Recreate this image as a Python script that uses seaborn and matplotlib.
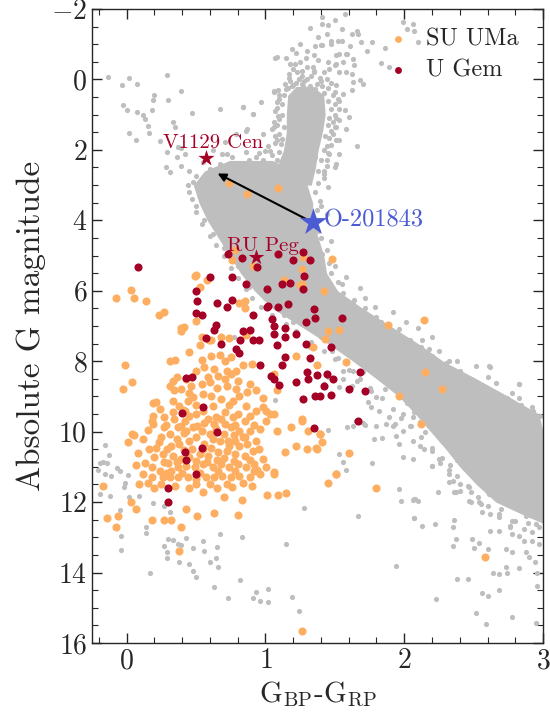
import numpy as np
import pandas as pd
import seaborn as sns
import matplotlib.pyplot as plt

# ---- data (colour index, absolute G mag) ----
# dense part of the Gaia field main sequence: blue / red edge per magnitude
ms_mag = [2.3, 2.6, 3.0, 3.5, 4.0, 4.5, 5.0, 5.5, 6.0, 6.5, 7.0, 7.5, 8.0,
          8.5, 9.0, 9.5, 10.0, 10.5, 11.0, 11.5, 12.0, 12.4, 12.6]
ms_blue = [0.74, 0.56, 0.48, 0.52, 0.58, 0.66, 0.74, 0.82, 0.92, 1.05, 1.25,
           1.45, 1.63, 1.8, 1.96, 2.08, 2.19, 2.3, 2.4, 2.52, 2.66, 2.88, 3.0]
ms_red = [1.05, 1.2, 1.3, 1.34, 1.34, 1.38, 1.42, 1.44, 1.52, 1.7, 1.9,
          2.1, 2.28, 2.52, 2.75, 2.97, 3.0, 3.0, 3.0, 3.0, 3.0, 3.0, 3.0]

# dense part of the giant branch / red clump
gb_mag = [0.2, 0.45, 1.0, 1.5, 2.0, 2.5, 3.0]
gb_blue = [1.22, 1.16, 1.15, 1.15, 1.13, 1.08, 0.98]
gb_red = [1.34, 1.42, 1.43, 1.41, 1.38, 1.36, 1.33]

field_pts = [
    (-0.135, -0.07), (-0.034, 0.15), (0.014, -0.04), (0.074, 0.13), (0.29, -0.13),
    (0.39, 0.33), (0.20, 0.43), (0.19, 0.57), (0.30, 0.57), (-0.03, 0.72),
    (0.005, 0.88), (0.074, 0.93), (0.12, 1.0), (0.18, 0.86), (0.13, 1.12),
    (0.15, 1.33), (0.16, 1.51), (0.02, 1.52), (0.07, 1.71), (0.33, 1.21),
    (0.35, 1.35), (0.37, 1.92), (0.24, 1.76), (0.29, 2.06), (0.39, 1.95),
    (0.42, 2.13), (0.47, 0.96), (0.67, 0.83), (0.84, 0.79), (0.91, 0.99),
    (0.87, 1.40), (0.79, 1.54), (0.71, 1.78), (0.98, 1.54), (1.06, 1.35),
    (1.07, -0.62), (1.26, -0.24), (1.35, -0.24), (1.17, -0.05), (1.24, 0.0),
    (1.06, 0.33), (1.16, 0.24), (0.28, 2.49), (0.31, 2.63), (0.39, 2.46),
    (0.45, 2.6), (0.36, 2.21), (0.53, 3.15), (0.55, 3.34), (0.48, 2.92),
    (0.69, 2.11), (0.76, 2.21), (0.86, 2.06), (0.93, 2.21), (1.0, 2.02),
    (1.08, 2.30), (0.84, 2.49), (0.98, 2.59), (0.67, 2.40), (1.11, 1.83),
    (1.17, 2.02), (1.22, 2.21), (1.29, 1.92), (1.36, 2.21), (0.55, 2.35),
    (0.60, 2.55), (0.72, 2.62), (0.50, 2.75), (0.62, 2.0), (0.78, 2.4),
    (1.40, -0.97), (1.47, -1.01), (1.51, -0.68), (1.59, -0.73), (1.56, -0.49),
    (1.64, -0.40), (1.62, -0.16), (1.53, -0.21), (1.46, -0.30), (1.44, -0.02),
    (1.35, -0.21), (1.24, -0.02), (1.17, -0.16), (1.08, -0.63), (1.15, 0.26),
    (1.26, 0.12), (1.36, 0.26), (1.51, 0.17), (1.56, 0.41), (1.63, 0.08),
    (1.06, 0.36), (0.97, 0.64), (0.91, 0.97), (0.84, 0.79), (1.10, 1.12),
    (1.53, 1.16), (1.58, 1.40), (1.51, 1.73), (1.53, 2.11), (1.50, 2.49),
    (1.05, 1.40), (1.08, 1.73), (1.03, 2.02), (0.98, 2.30), (0.91, 2.49),
    (0.88, 2.30), (0.86, 1.45), (0.72, 2.11),
    (1.18, -0.45), (1.25, -0.5), (1.30, -0.35), (1.38, -0.55), (1.42, -0.2),
    (1.20, -0.3), (1.33, -0.1), (1.28, 0.05), (1.40, 0.05), (1.45, 0.25),
    (1.49, 0.45), (1.50, 0.7), (1.50, 1.0), (1.49, 1.2), (1.47, 1.45),
    (1.46, 1.65), (1.44, 1.9), (1.44, 2.3), (1.42, 2.6), (1.10, 0.45),
    (1.08, 0.65), (1.07, 0.9), (1.06, 1.2), (1.07, 1.6), (1.02, 1.9),
    (0.95, 2.1), (0.92, 2.65), (1.38, 2.95), (1.42, 2.8), (1.15, -0.6),
    (1.22, -0.75), (1.30, -0.8), (1.35, -0.7), (1.45, -0.5), (1.50, -0.4),
    (1.25, -1.0), (1.38, -1.2), (1.32, -1.45), (1.44, -1.3), (1.55, -1.1),
    (1.50, -1.7), (1.57, -1.85), (1.62, -1.3), (1.45, -1.55), (1.20, 0.15),
    (1.32, 0.18), (1.23, -0.2), (1.29, -0.6), (1.19, -0.85), (1.36, -0.95),
    (1.09, 0.3), (1.1, 0.55), (1.08, 0.8), (1.09, 1.05), (1.08, 1.3),
    (1.1, 1.55), (1.07, 1.8), (1.05, 2.15), (1.0, 2.45), (0.95, 2.75),
    (1.5, 0.35), (1.52, 0.55), (1.53, 0.85), (1.51, 1.1), (1.5, 1.35),
    (1.49, 1.55), (1.47, 1.85), (1.45, 2.1), (1.44, 2.45), (1.22, 0.1),
    (1.3, 0.0), (1.37, 0.12), (1.26, -0.1), (1.18, 0.05), (1.41, 0.2),
    (1.14, 0.12), (1.34, -0.35), (1.21, -0.45), (1.39, -0.05), (1.47, 0.1),
    (1.19, 0.2), (1.27, 0.2), (1.35, 0.3), (1.42, 0.38), (1.13, 0.45),
    (1.45, 0.6), (1.47, 0.85), (1.12, 0.7), (1.12, 1.0), (1.46, 1.1),
    (1.45, 1.3), (1.13, 1.35), (1.12, 1.7), (1.43, 1.6), (1.42, 2.0),
    (1.1, 2.05), (1.4, 2.3), (1.05, 2.4), (1.38, 2.6), (1.30, 0.28),
    (1.41, -1.77), (1.41, -1.56), (1.55, -1.44), (1.66, -1.37), (1.67, -1.28),
    (1.41, -0.99), (1.47, -1.09), (1.52, -1.08), (1.69, -1.06), (1.77, -1.06),
    (1.86, -0.9), (2.06, -1.58), (2.07, -1.37), (2.10, -1.06), (2.02, -1.44),
    (1.99, -1.63), (1.83, -0.47), (1.89, -0.35), (1.66, 1.88), (1.58, -0.73),
    (1.63, -0.59), (1.53, -0.73), (1.51, -0.45), (1.58, -0.21), (1.68, 0.03),
    (1.62, 0.31), (1.70, 0.12), (1.53, 0.6), (1.57, 0.88), (1.60, 1.07),
    (1.51, 1.35), (1.53, 1.73), (1.46, 2.11), (1.51, 2.40), (1.42, 2.68),
    (1.45, 3.06), (1.39, 3.44), (1.44, 3.82), (1.73, -0.8), (1.61, -0.95),
    (0.44, 3.0), (0.47, 3.4), (0.5, 3.75), (0.54, 4.1), (0.6, 4.45), (0.64, 4.7),
    (0.7, 5.0), (0.75, 5.35), (0.8, 5.65), (0.86, 5.95), (0.9, 6.2), (0.97, 6.45),
    (1.05, 6.7), (1.15, 6.95), (1.22, 7.15), (1.33, 7.45), (1.42, 7.7),
    (1.5, 7.95), (1.6, 8.25), (1.68, 8.5), (1.75, 8.75), (1.84, 9.05),
    (1.92, 9.35), (1.98, 9.6), (2.05, 9.85), (2.12, 10.15), (2.2, 10.45),
    (2.27, 10.75), (2.33, 10.95), (2.38, 11.25), (2.46, 11.55), (2.53, 11.85),
    (2.6, 12.1), (2.68, 12.35), (2.78, 12.55), (2.86, 12.75), (2.97, 12.7),
    (1.36, 3.2), (1.37, 3.7), (1.36, 4.2), (1.4, 4.5), (1.44, 4.85), (1.46, 5.2),
    (1.47, 5.5), (1.52, 5.75), (1.56, 6.05), (1.64, 6.25), (1.72, 6.5),
    (1.8, 6.75), (1.88, 6.95), (1.95, 7.2), (2.04, 7.4), (2.12, 7.6),
    (2.2, 7.85), (2.3, 8.05), (2.38, 8.3), (2.48, 8.5), (2.56, 8.7),
    (2.65, 8.9), (2.74, 9.05), (2.84, 9.25), (2.93, 9.4), (2.98, 9.55),
    (1.41, 4.97), (1.58, 5.62), (1.68, 5.92), (1.79, 6.47), (1.63, 6.33),
    (1.70, 6.70), (1.83, 6.88), (2.01, 6.88), (2.10, 7.07), (1.96, 7.08),
    (2.13, 7.40), (2.25, 7.70), (2.18, 7.65), (2.32, 7.98), (2.40, 8.27),
    (2.52, 8.13), (2.49, 8.55), (2.61, 8.14), (2.83, 8.66), (2.71, 9.17),
    (2.68, 9.0), (2.62, 8.17), (2.83, 8.65), (2.83, 9.05), (2.66, 8.63),
    (2.76, 9.12), (2.90, 9.64), (2.94, 10.02), (1.50, 5.3), (1.55, 5.8),
    (1.72, 6.2), (1.92, 6.6), (2.2, 7.3), (2.38, 8.0), (2.6, 8.45),
    (2.78, 8.9), (2.92, 9.3), (1.47, 4.6), (1.38, 4.3), (1.40, 3.6),
    (1.99, 9.97), (2.07, 9.45), (2.11, 9.74), (2.06, 10.78), (2.20, 10.97),
    (2.25, 10.78), (2.32, 11.1), (2.35, 11.39), (2.36, 11.72), (2.24, 11.72),
    (2.08, 11.91), (2.07, 12.46), (2.13, 12.67), (2.22, 12.62), (2.36, 12.5),
    (2.40, 11.68), (2.47, 11.58), (2.48, 12.0), (2.55, 12.06), (2.56, 12.29),
    (2.61, 11.77), (2.62, 12.34), (2.68, 12.43), (2.76, 12.67), (2.80, 12.53),
    (2.88, 12.39), (2.89, 12.58), (2.95, 12.62), (2.70, 12.2), (2.78, 12.9),
    (1.96, 11.63), (1.98, 11.96), (2.07, 11.91), (2.10, 11.96), (2.07, 12.45),
    (2.37, 13.05), (2.35, 13.24), (2.50, 13.29), (2.54, 13.17), (2.60, 13.33),
    (2.64, 14.0), (2.68, 14.04), (2.74, 14.02), (2.73, 13.83), (2.83, 13.88),
    (2.68, 14.5), (2.56, 14.59), (2.60, 14.68), (2.38, 14.18), (2.46, 14.18),
    (2.23, 14.75), (2.52, 15.15), (2.59, 15.46), (2.78, 15.26), (2.95, 15.42),
    (1.94, 13.81), (1.67, 12.39), (1.28, 12.17), (2.96, 14.38), (2.96, 14.0),
    (2.90, 13.57), (2.92, 13.1), (2.83, 12.95), (2.76, 12.72), (2.68, 12.81),
    (2.62, 12.81), (2.73, 13.33), (2.78, 13.43), (2.88, 13.43), (2.49, 13.05),
    (2.35, 12.72), (2.92, 12.85), (2.97, 13.2), (2.86, 13.1), (2.94, 13.7),
    (1.78, 10.21), (1.84, 10.18), (1.92, 9.83), (1.80, 9.83), (1.72, 9.8),
    (1.63, 9.83), (1.59, 9.86), (1.45, 9.94), (1.53, 10.63), (1.56, 10.87),
    (1.58, 11.08), (1.77, 10.89), (1.94, 10.11), (1.96, 10.35), (1.99, 10.73),
    (2.06, 10.26), (2.11, 10.40), (2.14, 10.49), (2.20, 10.54), (2.26, 10.90),
    (2.20, 10.97), (2.32, 11.2), (2.32, 11.44), (2.40, 11.49), (2.37, 11.72),
    (2.48, 11.72), (2.47, 11.96), (2.54, 12.01), (2.06, 11.93),
    (1.53, 8.74), (1.62, 8.69), (1.66, 8.55), (1.56, 8.5), (1.76, 8.84),
    (1.80, 9.03), (1.74, 9.17), (1.76, 9.31), (1.82, 9.40), (1.89, 9.59),
    (1.93, 9.78), (1.87, 9.78), (1.99, 9.5), (2.06, 9.59), (2.04, 9.83),
    (1.65, 9.69), (1.70, 9.76), (1.48, 7.70), (1.58, 7.98), (1.63, 8.29),
    (1.56, 8.27), (1.45, 8.46), (1.42, 8.65), (1.40, 7.3), (1.20, 6.9),
    (1.00, 6.2), (0.88, 5.9), (0.80, 5.3), (0.70, 4.8), (0.62, 4.4),
    (0.56, 4.0), (0.50, 3.6), (0.45, 3.2), (1.13, 6.7), (1.32, 7.6),
    (1.52, 7.9), (1.70, 8.3), (1.86, 8.8), (2.02, 9.2), (2.15, 10.0),
    (2.28, 10.3), (2.38, 10.8), (2.50, 11.3), (2.60, 11.7), (2.75, 12.0),
    (0.77, 7.3), (1.07, 9.09),
    (-0.16, 10.38), (-0.13, 10.66), (-0.19, 10.9), (-0.17, 10.87), (-0.14, 10.89),
    (-0.21, 11.09), (-0.16, 11.2), (-0.07, 11.04), (-0.05, 11.11), (-0.11, 11.27),
    (0.01, 11.22), (-0.01, 11.47), (-0.02, 11.58), (-0.19, 11.77), (-0.12, 11.82),
    (0.02, 11.85), (0.09, 11.82), (0.19, 12.03), (0.27, 12.1), (0.31, 12.29),
    (0.32, 12.55), (-0.05, 12.23), (-0.04, 12.95), (-0.04, 13.36), (0.14, 12.70),
    (0.14, 12.89), (0.17, 14.0), (0.27, 13.24), (0.30, 13.05), (0.33, 13.08),
    (0.29, 13.41), (0.29, 13.6), (0.39, 13.22), (0.38, 13.69), (0.43, 13.03),
    (0.45, 13.76), (0.48, 13.97), (0.50, 14.12), (0.48, 13.29), (0.55, 13.1),
    (0.56, 13.38), (0.60, 13.71), (0.64, 13.6), (0.65, 13.27), (0.66, 13.84),
    (0.67, 12.91), (0.83, 13.0), (0.82, 14.22), (0.63, 14.42), (0.73, 14.71),
    (0.91, 14.73), (0.93, 14.56), (0.96, 14.8), (1.02, 14.85), (1.02, 14.47),
    (1.19, 14.69), (1.15, 13.19), (1.24, 15.1), (0.37, 13.19),
]

su_uma_pts = [
    (-0.08, 6.2), (0.03, 5.97), (0.05, 6.2), (0.14, 6.3), (0.23, 6.7), (0.27, 6.6),
    (0.39, 7.07), (0.41, 7.02), (0.50, 5.56), (0.58, 5.7), (0.53, 5.9), (0.50, 6.85),
    (0.78, 4.83), (0.76, 5.14), (0.91, 5.3), (0.85, 6.3), (0.85, 6.5), (0.68, 7.3),
    (0.61, 7.4), (-0.01, 8.1), (0.04, 8.6), (-0.03, 8.8), (0.19, 9.2), (0.18, 9.7),
    (0.04, 10.06), (0.01, 10.3), (0.74, 2.93), (0.87, 3.25), (1.09, 3.08),
    (-0.17, 11.53), (-0.14, 12.44), (-0.08, 12.7), (-0.06, 12.4), (0.03, 12.0),
    (0.07, 12.2), (0.05, 10.1), (0.08, 10.6), (0.07, 10.95), (0.09, 11.5),
    (0.18, 12.5), (0.27, 12.5), (0.32, 12.5), (0.39, 12.7), (0.38, 13.4),
    (0.43, 12.2), (0.51, 12.4), (0.63, 12.3), (0.80, 12.36), (0.83, 11.93),
    (0.70, 11.85), (0.65, 11.6), (0.55, 11.7), (0.76, 11.56), (1.01, 11.8),
    (1.09, 11.8), (1.15, 11.75), (1.06, 11.2), (0.94, 11.1), (0.84, 11.45),
    (1.26, 15.65), (2.58, 13.55), (1.80, 11.6), (1.45, 11.45), (1.51, 11.2),
    (1.60, 10.6), (1.30, 10.5), (1.37, 10.5), (1.41, 10.3), (1.39, 10.06),
    (2.12, 9.78), (1.26, 9.7), (1.48, 5.1), (1.27, 5.05), (1.26, 5.37),
    (1.26, 5.8), (1.42, 6.0), (1.88, 6.96), (2.14, 6.82), (1.45, 7.13),
    (1.53, 7.1), (1.43, 7.36), (1.34, 7.6), (1.37, 8.1), (1.58, 8.03),
    (2.15, 8.3), (2.27, 8.78), (1.96, 9.0), (1.13, 5.7), (1.25, 5.85),
    (0.49, 5.57), (0.81, 6.36),
    (0.39, 7.13), (0.54, 7.30), (0.59, 7.41), (0.74, 7.34), (0.86, 7.27),
    (0.53, 7.53), (0.45, 7.75), (0.345, 7.96), (0.31, 7.98), (0.54, 7.96),
    (0.61, 7.84), (0.67, 7.81), (0.705, 7.98), (0.75, 7.87), (0.84, 8.12),
    (0.90, 8.08), (0.885, 8.65), (0.72, 8.27), (0.63, 8.22), (0.56, 8.17),
    (0.50, 8.27), (0.43, 8.50), (0.36, 8.46), (0.33, 8.55), (0.31, 8.69),
    (0.39, 8.79), (0.465, 8.69), (0.54, 8.65), (0.585, 8.46), (0.66, 8.41),
    (0.705, 8.50), (0.75, 8.36), (0.79, 8.27), (0.72, 8.69), (0.79, 8.79),
    (0.81, 8.98), (0.87, 8.88), (0.93, 8.83), (0.765, 9.12), (0.68, 9.07),
    (0.61, 8.98), (0.55, 8.93), (0.48, 9.02), (0.44, 9.12), (0.38, 9.26),
    (0.33, 9.12), (0.34, 8.83), (0.21, 9.17), (0.19, 9.55), (0.19, 9.78),
    (0.27, 9.57), (0.33, 9.45), (0.405, 9.38), (0.45, 9.55), (0.50, 9.50),
    (0.55, 9.40), (0.585, 9.64), (0.645, 9.59), (0.705, 9.45), (0.765, 9.59),
    (0.80, 9.50), (0.85, 9.69), (0.885, 9.55), (0.93, 9.40), (0.98, 9.31),
    (1.03, 9.50), (1.06, 9.50), (1.005, 9.69), (0.96, 9.92), (0.885, 9.97),
    (0.84, 10.16), (0.81, 9.97), (0.75, 9.88), (0.705, 9.78), (0.645, 9.92),
    (0.60, 10.07), (0.54, 9.97), (0.48, 9.88), (0.43, 9.97), (0.37, 9.88),
    (0.31, 10.07), (0.25, 10.16), (0.21, 10.45), (0.20, 10.73), (0.26, 10.63),
    (0.32, 10.40), (0.38, 10.35), (0.45, 10.26), (0.50, 10.16), (0.56, 10.35),
    (0.61, 10.45), (0.67, 10.26), (0.73, 10.26), (0.78, 10.26), (0.81, 10.40),
    (0.87, 10.35), (0.93, 10.26), (0.91, 10.54), (0.85, 10.68), (0.78, 10.63),
    (0.72, 10.54), (0.66, 10.59), (0.585, 10.68), (0.525, 10.63), (0.45, 10.73),
    (0.39, 10.78), (0.33, 10.68), (0.27, 10.87), (0.24, 11.11), (0.32, 11.11),
    (0.37, 11.01), (0.43, 10.97), (0.49, 11.01), (0.55, 10.92), (0.62, 11.01),
    (0.68, 10.92), (0.74, 11.01), (0.80, 10.92), (0.86, 11.01), (0.92, 10.92),
    (0.98, 10.78), (1.005, 11.01), (1.065, 11.15), (0.96, 11.20), (0.885, 11.30),
    (0.81, 11.25), (0.75, 11.30), (0.69, 11.25), (0.63, 11.30), (0.57, 11.30),
    (0.50, 11.34), (0.44, 11.30), (0.37, 11.30), (0.31, 11.30), (0.26, 11.30),
    (1.08, 9.97), (1.14, 10.59), (1.185, 9.88), (1.26, 9.64), (1.31, 9.97),
    (1.39, 10.07), (1.365, 10.45), (1.51, 11.20), (1.22, 10.40), (1.22, 7.84),
    (1.065, 8.36), (1.08, 8.83), (1.005, 9.40),
    (0.15, 11.45), (0.20, 11.6), (0.25, 11.5), (0.35, 11.55), (0.45, 11.6),
    (0.50, 11.5), (0.60, 11.5), (0.72, 11.5), (0.90, 11.55), (0.12, 11.2),
    (0.18, 11.3), (0.13, 10.9), (0.16, 10.5), (0.12, 10.2), (0.15, 9.95),
    (0.28, 9.8), (0.42, 9.7), (0.56, 9.75), (0.68, 9.65), (0.36, 10.2),
    (0.62, 10.2), (0.47, 10.5), (0.70, 10.75), (0.30, 10.9), (0.58, 10.85),
    (0.50, 9.25), (0.62, 9.27), (0.74, 9.24), (0.86, 9.26), (0.27, 9.86),
    (0.39, 9.84), (0.51, 9.83), (0.63, 9.77), (0.78, 9.82), (0.92, 9.8),
    (0.41, 10.05), (0.70, 10.06), (0.77, 10.1), (0.29, 10.5), (0.41, 10.52),
    (0.74, 10.42), (0.95, 10.5), (0.36, 10.86), (0.50, 10.84), (0.65, 10.8),
    (0.77, 10.82), (0.89, 10.8), (0.29, 11.17), (0.40, 11.16), (0.53, 11.17),
    (0.66, 11.13), (0.78, 11.12), (0.92, 11.13), (0.45, 8.9), (0.65, 8.75),
    (0.98, 9.05), (0.6, 8.58), (0.8, 8.55), (0.42, 9.42), (0.24, 9.35),
    (0.23, 10.3), (0.18, 11.0), (0.55, 10.5), (0.85, 10.15), (0.34, 9.65),
]

u_gem_pts = [
    (0.08, 5.33), (0.73, 4.95), (0.83, 5.08), (0.94, 5.33), (1.09, 4.97),
    (1.20, 5.12), (1.32, 5.12), (1.27, 4.89), (0.60, 5.62), (0.76, 5.62),
    (0.86, 5.80), (1.01, 5.94), (1.12, 5.82), (1.18, 5.77), (1.27, 5.94),
    (1.28, 5.57), (0.50, 6.02), (0.51, 6.30), (0.65, 6.34), (0.76, 6.25),
    (0.50, 6.62), (0.54, 6.70), (0.91, 6.68), (1.01, 6.45), (1.09, 6.45),
    (1.05, 6.80), (1.35, 6.53), (1.36, 6.76), (1.55, 6.76), (1.29, 6.90),
    (0.64, 6.96), (0.63, 7.10), (0.57, 7.33), (0.68, 7.5), (0.84, 7.13),
    (0.89, 7.10), (0.82, 7.39), (0.91, 7.39), (0.95, 7.39), (1.06, 6.99),
    (1.06, 7.24), (1.14, 7.07), (1.22, 7.24), (1.08, 7.53), (1.14, 7.30),
    (1.29, 7.50), (1.47, 7.60), (0.79, 7.64), (0.81, 7.76), (1.32, 7.90),
    (1.14, 7.87), (1.12, 8.10), (0.96, 8.12), (1.04, 8.43), (1.06, 8.5),
    (1.10, 8.67), (1.22, 8.60), (1.27, 9.06), (1.31, 8.50), (1.37, 8.39),
    (1.44, 8.35), (1.49, 8.5), (1.36, 8.98), (1.39, 8.98), (1.47, 8.95),
    (1.42, 8.69), (1.30, 8.30), (1.68, 8.30), (1.60, 8.80), (1.72, 8.86),
    (1.67, 9.70), (1.35, 9.90), (0.43, 8.47), (0.47, 8.44), (0.40, 9.46),
    (0.55, 9.30), (0.65, 10.0), (0.54, 10.45), (0.42, 10.57), (0.43, 10.8),
    (0.50, 11.2), (0.30, 11.6), (0.30, 12.0), (0.72, 6.45), (1.02, 6.42),
    (1.16, 6.39),
]

# named objects: (colour index, abs G)
v1129_cen = (0.57, 2.22)
ru_peg = (0.935, 5.05)
o201843 = (1.34, 4.06)
arrow_tip = (0.655, 2.67)

grey = "#bebebe"
orange = "#fdae61"
darkred = "#a50026"
blue = "#4a5bd4"

field = pd.DataFrame(field_pts, columns=["bp_rp", "mg"])
su_uma = pd.DataFrame(su_uma_pts, columns=["bp_rp", "mg"])
u_gem = pd.DataFrame(u_gem_pts, columns=["bp_rp", "mg"])

sns.set_style("ticks")
plt.rcParams["font.family"] = ["cmr10", "DejaVu Serif"]
plt.rcParams["mathtext.fontset"] = "cm"
plt.rcParams["axes.formatter.use_mathtext"] = True
plt.rcParams["axes.linewidth"] = 1.0

fig = plt.figure(figsize=(5.5, 7.13), dpi=100)
ax = fig.add_axes([0.1673, 0.0982, 0.8200, 0.8892])

# Gaia field stars
ax.fill_betweenx(ms_mag, ms_blue, ms_red, color=grey, lw=0, zorder=1)
ax.fill_betweenx(gb_mag, gb_blue, gb_red, color=grey, lw=0, zorder=1)
sns.scatterplot(data=field, x="bp_rp", y="mg", color=grey, s=14, linewidth=0,
                ax=ax, legend=False, zorder=1)

# CVs
sns.scatterplot(data=su_uma, x="bp_rp", y="mg", color=orange, s=34, linewidth=0,
                ax=ax, label="SU UMa", zorder=2)
sns.scatterplot(data=u_gem, x="bp_rp", y="mg", color=darkred, s=34, linewidth=0,
                ax=ax, label="U Gem", zorder=3)

# highlighted objects
ax.scatter(*v1129_cen, marker="*", s=150, color=darkred, lw=0, zorder=4)
ax.scatter(*ru_peg, marker="*", s=140, color=darkred, lw=0, zorder=4)
ax.annotate("", xy=arrow_tip, xytext=o201843,
            arrowprops=dict(arrowstyle="-|>", color="black", lw=1.5,
                            mutation_scale=12, shrinkA=0, shrinkB=0), zorder=4)
ax.scatter(*o201843, marker="*", s=420, color=blue, lw=0, zorder=5)

ax.text(0.62, 1.96, "V1129 Cen", color=darkred, fontsize=15,
        ha="center", va="baseline")
ax.text(0.98, 4.86, "RU Peg", color=darkred, fontsize=15,
        ha="center", va="baseline")
ax.text(o201843[0] + 0.08, o201843[1] - 0.05, "O-201843", color=blue,
        fontsize=17.5, ha="left", va="center")

ax.set_xlim(-0.25, 3)
ax.set_ylim(16, -2)
ax.set_xticks([0, 1, 2, 3])
ax.set_yticks(range(-2, 17, 2))
ax.xaxis.set_minor_locator(plt.MultipleLocator(0.2))
ax.yaxis.set_minor_locator(plt.MultipleLocator(0.5))
ax.tick_params(which="both", direction="in", top=True, right=True, labelsize=20)
ax.tick_params(which="major", length=7, width=1)
ax.tick_params(which="minor", length=4, width=0.8)

ax.set_xlabel(r"G$_{\rm BP}$-G$_{\rm RP}$", fontsize=21, labelpad=4)
ax.set_ylabel("Absolute G magnitude", fontsize=24, labelpad=4)

ax.legend(loc="upper right", bbox_to_anchor=(0.99, 1.0), frameon=False,
          fontsize=17.5, markerscale=0.85, handlelength=1.0, handletextpad=0.65,
          labelspacing=0.35, borderaxespad=0.4)

fig.savefig("out.png", dpi=100)
